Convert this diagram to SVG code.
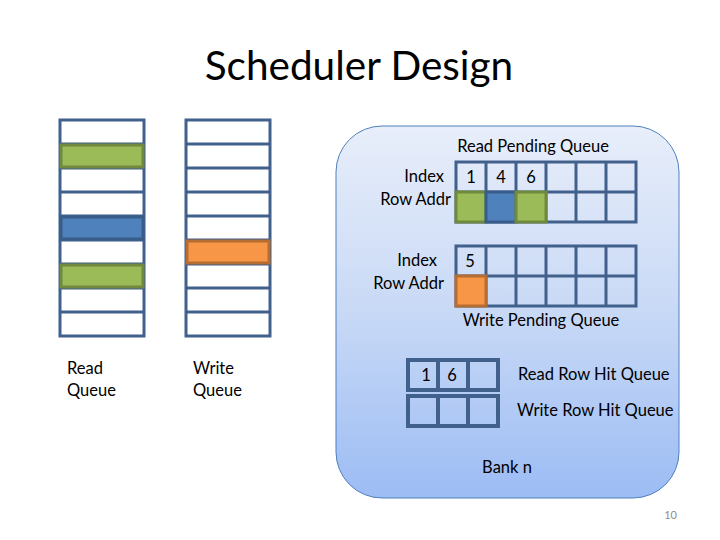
<svg xmlns="http://www.w3.org/2000/svg" width="720" height="540" viewBox="0 0 720 540">
<defs>
<linearGradient id="bankGrad" x1="0" y1="0" x2="0" y2="1">
<stop offset="0" stop-color="#e8eefa"/>
<stop offset="0.5" stop-color="#c8d9f6"/>
<stop offset="1" stop-color="#9cbcf4"/>
</linearGradient>
</defs>
<style>
text{font-family:Lato,"Liberation Sans",sans-serif;fill:#000;}
.t{font-size:16.5px;}
.cell{fill:#fff;stroke:#41618c;stroke-width:3;}
.cellT{fill:none;stroke:#41618c;stroke-width:3;}
.thick{fill:none;stroke:#41618c;stroke-width:4;}
.green{fill:#9bbb59;stroke:#71893f;stroke-width:3;}
.blue{fill:#4f81bd;stroke:#385d8a;stroke-width:3;}
.orange{fill:#f79646;stroke:#b66d31;stroke-width:3;}
</style>
<rect width="720" height="540" fill="#fff"/>
<text x="359" y="80" font-size="40.5" text-anchor="middle">Scheduler Design</text>

<g id="read-queue">
<rect class="cell" x="60" y="120" width="84" height="216"/>
<path class="cellT" d="M60 144H144M60 168H144M60 192H144M60 216H144M60 240H144M60 264H144M60 288H144M60 312H144"/>
<rect class="green" x="61" y="145" width="82" height="22"/>
<rect class="blue" x="61" y="217" width="82" height="22"/>
<rect class="green" x="61" y="265" width="82" height="22"/>
<text class="t" x="67" y="374">Read</text>
<text class="t" x="67" y="396">Queue</text>
</g>

<g id="write-queue">
<rect class="cell" x="186" y="120" width="84" height="216"/>
<path class="cellT" d="M186 144H270M186 168H270M186 192H270M186 216H270M186 240H270M186 264H270M186 288H270M186 312H270"/>
<rect class="orange" x="187" y="241" width="82" height="22"/>
<text class="t" x="193" y="374">Write</text>
<text class="t" x="193" y="396">Queue</text>
</g>

<g id="bank">
<rect x="336" y="126" width="343" height="372" rx="46" ry="46" fill="url(#bankGrad)" stroke="#4f81bd" stroke-width="1"/>
<text class="t" x="533" y="152" text-anchor="middle">Read Pending Queue</text>
<text class="t" x="444" y="182" text-anchor="end">Index</text>
<text class="t" x="451" y="205" text-anchor="end">Row Addr</text>
<text class="t" x="437" y="266" text-anchor="end">Index</text>
<text class="t" x="444" y="289" text-anchor="end">Row Addr</text>
<text class="t" x="541" y="326" text-anchor="middle">Write Pending Queue</text>
<text class="t" x="518" y="380">Read Row Hit Queue</text>
<text class="t" x="517" y="416">Write Row Hit Queue</text>
<text class="t" x="507" y="473" text-anchor="middle">Bank n</text>
</g>

<g id="read-pending-queue">
<rect class="cellT" x="456" y="162" width="180" height="60"/>
<path class="cellT" d="M456 192H636M486 162V222M516 162V222M546 162V222M576 162V222M606 162V222"/>
<rect class="green" x="456" y="192" width="30" height="30"/>
<rect class="blue" x="486" y="192" width="30" height="30"/>
<rect class="green" x="516" y="192" width="30" height="30"/>
<text class="t" x="471" y="183" text-anchor="middle">1</text>
<text class="t" x="501" y="183" text-anchor="middle">4</text>
<text class="t" x="531" y="183" text-anchor="middle">6</text>
</g>

<g id="write-pending-queue">
<rect class="cellT" x="456" y="246" width="180" height="60"/>
<path class="cellT" d="M456 276H636M486 246V306M516 246V306M546 246V306M576 246V306M606 246V306"/>
<rect class="orange" x="456" y="276" width="30" height="30"/>
<text class="t" x="470" y="267" text-anchor="middle">5</text>
</g>

<g id="read-row-hit-queue">
<rect class="thick" x="408" y="360" width="90" height="30"/>
<path class="thick" d="M438 360V390M468 360V390"/>
<text class="t" x="426" y="381" text-anchor="middle">1</text>
<text class="t" x="452" y="381" text-anchor="middle">6</text>
</g>

<g id="write-row-hit-queue">
<rect class="thick" x="408" y="396" width="90" height="30"/>
<path class="thick" d="M438 396V426M468 396V426"/>
</g>

<g id="connectors"></g>

<text x="677" y="519" font-size="11" text-anchor="end" style="fill:#8c8c8c">10</text>
</svg>
